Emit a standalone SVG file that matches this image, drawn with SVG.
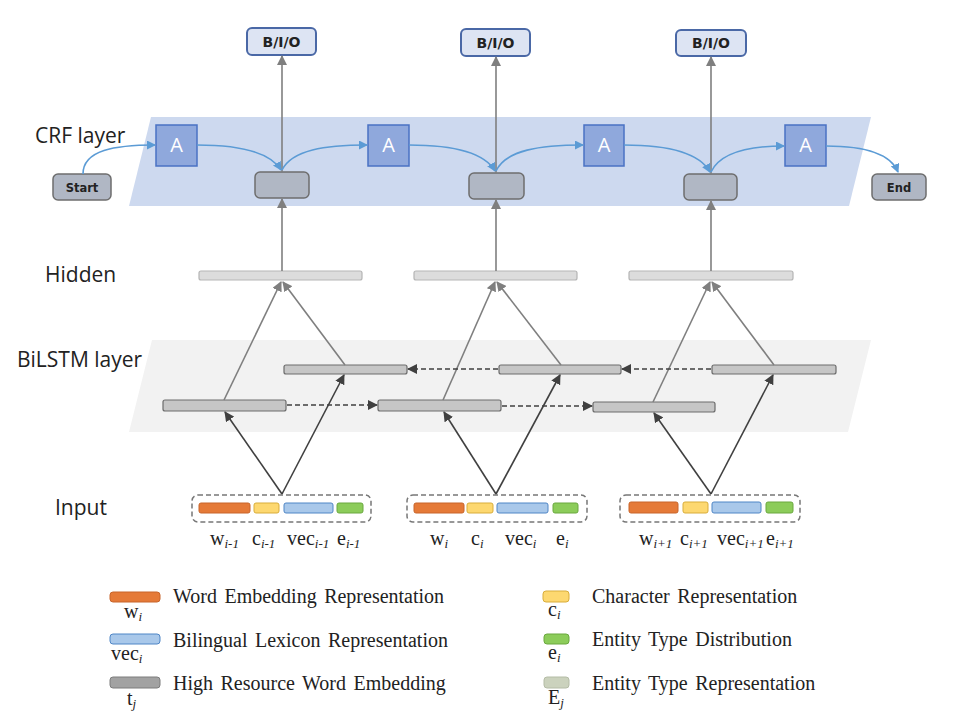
<svg xmlns="http://www.w3.org/2000/svg" width="960" height="726" viewBox="0 0 960 726">
<defs>
<marker id="ag" markerWidth="10" markerHeight="10" refX="9" refY="5" orient="auto" markerUnits="userSpaceOnUse"><path d="M0,0 L10,5 L0,10 z" fill="#7f7f7f"/></marker>
<marker id="ad" markerWidth="10" markerHeight="10" refX="9" refY="5" orient="auto" markerUnits="userSpaceOnUse"><path d="M0,0 L10,5 L0,10 z" fill="#404040"/></marker>
<marker id="ab" markerWidth="9" markerHeight="9" refX="8" refY="4.5" orient="auto" markerUnits="userSpaceOnUse"><path d="M0,0 L9,4.5 L0,9 z" fill="#5b9bd5"/></marker>
</defs>
<style>
.lbl{font-family:"Open Sans","Noto Sans","DejaVu Sans",sans-serif;font-size:21px;fill:#222}
.bio{fill:#dde4f3;stroke:#4a68a6;stroke-width:2}
.biot{font-family:"DejaVu Sans","Liberation Sans",sans-serif;font-weight:bold;font-size:14px;fill:#222;text-anchor:middle}
.gbox{fill:#b0b7c4;stroke:#6e6e6e;stroke-width:1.5}
.gt{font-family:"DejaVu Sans","Liberation Sans",sans-serif;font-weight:bold;font-size:11.5px;fill:#222;text-anchor:middle}
.abox{fill:#8fa8dc;stroke:#4a72c4;stroke-width:1.5}
.at{font-family:"Open Sans","Noto Sans",sans-serif;font-size:20px;fill:#fff;text-anchor:middle}
.hid{fill:#dcdcdc;stroke:#b5b5b5;stroke-width:1.2}
.lstm{fill:#c6c6c6;stroke:#6c6c6c;stroke-width:1.2}
.ibox{fill:none;stroke:#777;stroke-width:1.5;stroke-dasharray:5,3}
.or{fill:#e57a38;stroke:#c8652a;stroke-width:1}
.ye{fill:#fdd870;stroke:#d9ad3a;stroke-width:1}
.bl{fill:#a9c8ea;stroke:#4f86c6;stroke-width:1}
.gr{fill:#8ccc5a;stroke:#6aa83e;stroke-width:1}
.gy{fill:#a2a2a2;stroke:#7c7c7c;stroke-width:1}
.be{fill:#cbd2bd;stroke:#b4bca6;stroke-width:1}
.tm{font-family:"Liberation Serif","Times New Roman",serif;font-size:20px;fill:#222}
.lg{word-spacing:2.5px}
.sub{font-style:italic;font-size:13px}
.cg{fill:none;stroke:#7f7f7f;stroke-width:1.6}
.cd{fill:none;stroke:#404040;stroke-width:1.6}
.cdash{fill:none;stroke:#404040;stroke-width:1.5;stroke-dasharray:5,3}
.cb{fill:none;stroke:#5b9bd5;stroke-width:1.6}
</style>
<rect width="960" height="726" fill="#fff"/>
<!-- bands -->
<polygon points="151,117 871,117 849,206 129,206" fill="#cdd9ef"/>
<polygon points="152,340 871,340 848,432 129,432" fill="#f2f2f2"/>
<!-- layer labels -->
<text class="lbl" x="35" y="143">CRF layer</text>
<text class="lbl" x="45" y="282">Hidden</text>
<text class="lbl" x="17" y="367">BiLSTM layer</text>
<text class="lbl" x="55" y="515">Input</text>
<!-- nodes -->
<g id="bio1"><rect class="bio" x="247" y="28" width="69" height="27" rx="5"/><text class="biot" x="281.5" y="46.5">B/I/O</text></g>
<g id="bio2"><rect class="bio" x="461" y="29" width="69" height="27" rx="5"/><text class="biot" x="495.5" y="47.5">B/I/O</text></g>
<g id="bio3"><rect class="bio" x="676" y="30" width="70" height="26" rx="5"/><text class="biot" x="711" y="48">B/I/O</text></g>
<g id="start"><rect class="gbox" x="53" y="174" width="58" height="26" rx="5"/><text class="gt" x="82" y="191.5">Start</text></g>
<g id="end"><rect class="gbox" x="872" y="174" width="54" height="26" rx="5"/><text class="gt" x="899" y="191.5">End</text></g>
<g id="crf1"><rect class="gbox" x="255" y="172" width="54" height="26" rx="5"/></g>
<g id="crf2"><rect class="gbox" x="469" y="173" width="55" height="26" rx="5"/></g>
<g id="crf3"><rect class="gbox" x="684" y="174" width="53" height="26" rx="5"/></g>
<g id="a1"><rect class="abox" x="156" y="125" width="41" height="41"/><text class="at" x="176.5" y="152">A</text></g>
<g id="a2"><rect class="abox" x="368" y="125" width="41" height="41"/><text class="at" x="388.5" y="152">A</text></g>
<g id="a3"><rect class="abox" x="584" y="125" width="40" height="41"/><text class="at" x="604" y="152">A</text></g>
<g id="a4"><rect class="abox" x="785" y="125" width="41" height="41"/><text class="at" x="805.5" y="152">A</text></g>
<g id="hid1"><rect class="hid" x="199" y="271" width="163" height="9" rx="2"/></g>
<g id="hid2"><rect class="hid" x="414" y="271" width="163" height="9" rx="2"/></g>
<g id="hid3"><rect class="hid" x="629" y="271" width="164" height="9" rx="2"/></g>
<g id="lf1"><rect class="lstm" x="163" y="400" width="123" height="11" rx="2"/></g>
<g id="lb1"><rect class="lstm" x="284" y="365" width="123" height="9" rx="2"/></g>
<g id="lf2"><rect class="lstm" x="378" y="400" width="123" height="11" rx="2"/></g>
<g id="lb2"><rect class="lstm" x="499" y="365" width="122" height="9" rx="2"/></g>
<g id="lf3"><rect class="lstm" x="593" y="402" width="122" height="10" rx="2"/></g>
<g id="lb3"><rect class="lstm" x="712" y="365" width="124" height="9" rx="2"/></g>
<g id="in1">
<rect class="ibox" x="192" y="495" width="179" height="27" rx="6"/>
<rect class="or" x="199" y="503" width="51" height="10" rx="2"/>
<rect class="ye" x="254" y="503" width="25" height="10" rx="2"/>
<rect class="bl" x="284" y="503" width="49" height="10" rx="2"/>
<rect class="gr" x="337" y="503" width="26" height="10" rx="2"/>
<text class="tm" x="210" y="545">w<tspan class="sub" dy="3">i-1</tspan></text>
<text class="tm" x="252" y="545">c<tspan class="sub" dy="3">i-1</tspan></text>
<text class="tm" x="287" y="545">vec<tspan class="sub" dy="3">i-1</tspan></text>
<text class="tm" x="337" y="545">e<tspan class="sub" dy="3">i-1</tspan></text>
</g>
<g id="in2">
<rect class="ibox" x="407" y="495" width="180" height="27" rx="6"/>
<rect class="or" x="414" y="503" width="50" height="10" rx="2"/>
<rect class="ye" x="467" y="503" width="26" height="10" rx="2"/>
<rect class="bl" x="497" y="503" width="51" height="10" rx="2"/>
<rect class="gr" x="553" y="503" width="25" height="10" rx="2"/>
<text class="tm" x="430" y="545">w<tspan class="sub" dy="3">i</tspan></text>
<text class="tm" x="471" y="545">c<tspan class="sub" dy="3">i</tspan></text>
<text class="tm" x="505" y="545">vec<tspan class="sub" dy="3">i</tspan></text>
<text class="tm" x="556" y="545">e<tspan class="sub" dy="3">i</tspan></text>
</g>
<g id="in3">
<rect class="ibox" x="620" y="495" width="180" height="27" rx="6"/>
<rect class="or" x="629" y="502" width="49" height="11" rx="2"/>
<rect class="ye" x="683" y="502" width="25" height="11" rx="2"/>
<rect class="bl" x="712" y="502" width="49" height="11" rx="2"/>
<rect class="gr" x="766" y="502" width="27" height="11" rx="2"/>
<text class="tm" x="639" y="545">w<tspan class="sub" dy="3">i+1</tspan></text>
<text class="tm" x="680" y="545">c<tspan class="sub" dy="3">i+1</tspan></text>
<text class="tm" x="717" y="545">vec<tspan class="sub" dy="3">i+1</tspan></text>
<text class="tm" x="766" y="545">e<tspan class="sub" dy="3">i+1</tspan></text>
</g>
<!-- connectors -->
<g id="connectors">
<path class="cg" d="M282,172 V56" marker-end="url(#ag)"/>
<path class="cg" d="M496,173 V57" marker-end="url(#ag)"/>
<path class="cg" d="M711,174 V57" marker-end="url(#ag)"/>
<path class="cg" d="M282,271 V199" marker-end="url(#ag)"/>
<path class="cg" d="M496,271 V200" marker-end="url(#ag)"/>
<path class="cg" d="M711,271 V201" marker-end="url(#ag)"/>
<path class="cb" d="M83,174 C83,150 115,145 155,145" marker-end="url(#ab)"/>
<path class="cb" d="M197,145 C240,145 270,152 281,170" marker-end="url(#ab)"/>
<path class="cb" d="M282,170 C292,150 325,145 367,145" marker-end="url(#ab)"/>
<path class="cb" d="M409,145 C452,145 484,152 495,171" marker-end="url(#ab)"/>
<path class="cb" d="M496,171 C506,150 540,145 583,145" marker-end="url(#ab)"/>
<path class="cb" d="M624,145 C666,145 699,152 710,172" marker-end="url(#ab)"/>
<path class="cb" d="M711,172 C721,151 752,146 784,146" marker-end="url(#ab)"/>
<path class="cb" d="M826,146 C860,146 890,152 898,172" marker-end="url(#ab)"/>
<path class="cg" d="M224,400 L281,282" marker-end="url(#ag)"/>
<path class="cg" d="M345,365 L283,282" marker-end="url(#ag)"/>
<path class="cg" d="M443,400 L495,282" marker-end="url(#ag)"/>
<path class="cg" d="M561,365 L497,282" marker-end="url(#ag)"/>
<path class="cg" d="M653,402 L710,282" marker-end="url(#ag)"/>
<path class="cg" d="M774,365 L712,282" marker-end="url(#ag)"/>
<path class="cdash" d="M287,405 H377" marker-end="url(#ad)"/>
<path class="cdash" d="M502,406 H592" marker-end="url(#ad)"/>
<path class="cdash" d="M498,369 H408" marker-end="url(#ad)"/>
<path class="cdash" d="M711,369 H622" marker-end="url(#ad)"/>
<path class="cd" d="M282,494 L225,412" marker-end="url(#ad)"/>
<path class="cd" d="M282,494 L344,375" marker-end="url(#ad)"/>
<path class="cd" d="M496,494 L444,412" marker-end="url(#ad)"/>
<path class="cd" d="M496,494 L560,375" marker-end="url(#ad)"/>
<path class="cd" d="M711,494 L654,413" marker-end="url(#ad)"/>
<path class="cd" d="M711,494 L773,375" marker-end="url(#ad)"/>
</g>
<!-- legend -->
<g id="legend">
<rect class="or" x="110" y="592" width="50" height="10" rx="3"/>
<text class="tm" x="124" y="618">w<tspan class="sub" dy="3">i</tspan></text>
<text class="tm lg" x="173" y="603">Word Embedding Representation</text>
<rect class="bl" x="110" y="634" width="50" height="10" rx="3"/>
<text class="tm" x="111" y="660">vec<tspan class="sub" dy="3">i</tspan></text>
<text class="tm lg" x="173" y="647">Bilingual Lexicon Representation</text>
<rect class="gy" x="110" y="677" width="50" height="11" rx="3"/>
<text class="tm" x="127" y="705">t<tspan class="sub" dy="3">j</tspan></text>
<text class="tm lg" x="173" y="690">High Resource Word Embedding</text>
<rect class="ye" x="543" y="591" width="26" height="11" rx="3"/>
<text class="tm" x="548" y="616">c<tspan class="sub" dy="3">i</tspan></text>
<text class="tm lg" x="592" y="603">Character Representation</text>
<rect class="gr" x="544" y="634" width="25" height="10" rx="3"/>
<text class="tm" x="548" y="659">e<tspan class="sub" dy="3">i</tspan></text>
<text class="tm lg" x="592" y="646">Entity Type Distribution</text>
<rect class="be" x="544" y="677" width="25" height="11" rx="3"/>
<text class="tm" x="548" y="704">E<tspan class="sub" dy="3">j</tspan></text>
<text class="tm lg" x="592" y="690">Entity Type Representation</text>
</g>
</svg>
